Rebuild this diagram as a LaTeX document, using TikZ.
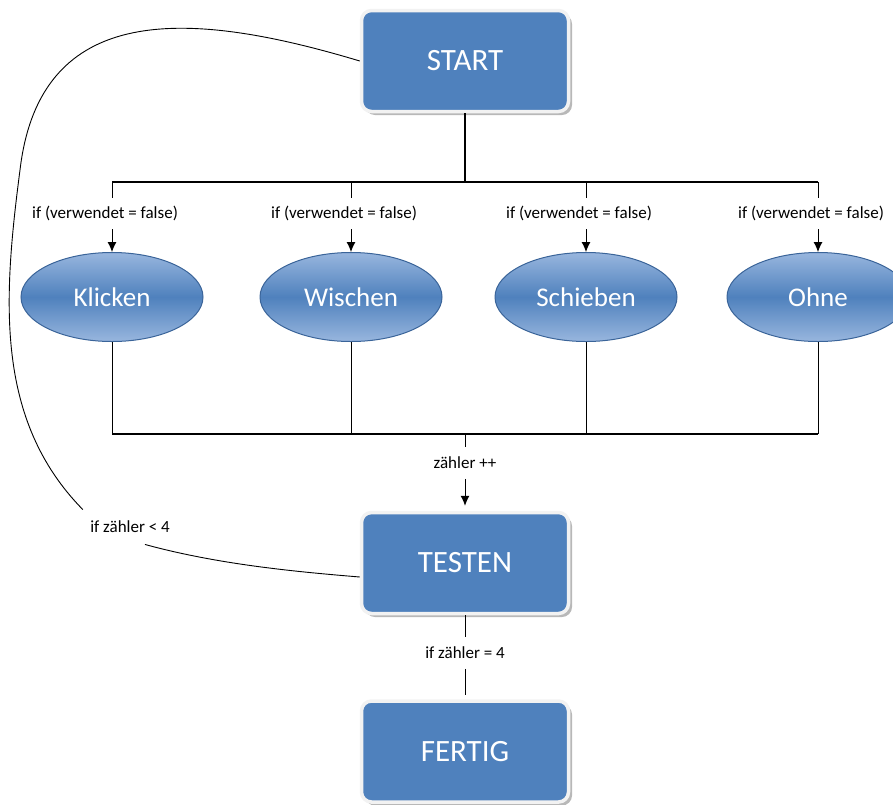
\documentclass[tikz,border=0pt]{standalone}
\usepackage{fontspec}
\setmainfont{Carlito}
\usetikzlibrary{shapes.geometric,arrows.meta,shadows}

\definecolor{kastenblau}{HTML}{4F81BD}
\definecolor{ellhell}{HTML}{98B6DE}
\definecolor{ellrand}{HTML}{3A6499}
\definecolor{ring}{HTML}{F2F2F2}

\begin{document}
\begin{tikzpicture}[x=1pt, y=-1pt, line width=0.9pt,
  kasten/.style={rectangle, rounded corners=10pt, fill=kastenblau, draw=ring, line width=3.5pt,
    minimum width=207pt, minimum height=101pt, text=white, font=\fontsize{31}{36}\selectfont,
    drop shadow={shadow xshift=3.5pt, shadow yshift=-3.5pt, fill=gray!70, opacity=0.8}},
  oval/.style={ellipse, minimum width=182pt, minimum height=89pt, inner sep=0pt,
    draw=ellrand, line width=1pt, top color=ellhell, bottom color=ellhell, middle color=kastenblau,
    text=white, font=\fontsize{27}{32}\selectfont},
  bedingung/.style={inner sep=0pt, minimum height=31pt, font=\fontsize{17}{20}\selectfont},
  pfeil/.style={-{Latex[length=10pt,width=9pt]}}]

  \useasboundingbox (0,0) rectangle (893,804);

  % Kaesten
  \node[kasten] (start) at (465,61) {START};
  \node[kasten] (testen) at (465,563) {TESTEN};
  \node[kasten] (fertig) at (465,751.5) {FERTIG};

  % Ovale
  \node[oval] (klicken) at (112,297) {Klicken};
  \node[oval] (wischen) at (351,297) {Wischen};
  \node[oval] (schieben) at (586,297) {Schieben};
  \node[oval] (ohne) at (818,297) {Ohne};

  % Verteiler oben und unten
  \coordinate (o1) at (112,182);
  \coordinate (o4) at (818,182);
  \coordinate (u1) at (112,434);
  \coordinate (u4) at (818,434);
  \draw[line width=1.6pt] (start.south) -- (start.south |- o1);
  \draw[line width=1.6pt] (o1) -- (o4);
  \draw[line width=1.2pt] (u1) -- (u4);

  \foreach \n in {klicken, wischen, schieben, ohne} {
    \node[bedingung] (b-\n) at ([xshift=-7pt]\n.north |- 0,213.5) {if (verwendet = false)};
    \draw (\n.north |- o1) -- (\n.north |- b-\n.north);
    \draw[pfeil] (\n.north |- b-\n.south) -- (\n.north);
    \draw (\n.south) -- (\n.south |- u1);
  }

  % Zaehler
  \node[bedingung] (plus) at (465,463) {zähler ++};
  \draw (plus.north |- u1) -- (plus.north);
  \draw[pfeil, shorten >=5pt] (plus.south) -- (testen.north);

  \node[bedingung] (gleich) at (465,653) {if zähler = 4};
  \draw (testen.south) -- (gleich.north);
  \draw[shorten >=4pt] (gleich.south) -- (fertig.north);

  % Schleife zurueck zu START
  \node[bedingung, inner xsep=7pt, minimum height=34pt] (kleiner) at (130,527) {if zähler < 4};
  \coordinate (knick) at (20,170);
  \draw (start.west) .. controls (190,10) and (40,0) .. (knick)
    .. controls (3,300) and (-5,420) .. (kleiner.north west);
  \draw ([xshift=15pt]kleiner.south) .. controls (220,565) and (300,572) .. ([yshift=-14pt]testen.west);
\end{tikzpicture}
\end{document}
